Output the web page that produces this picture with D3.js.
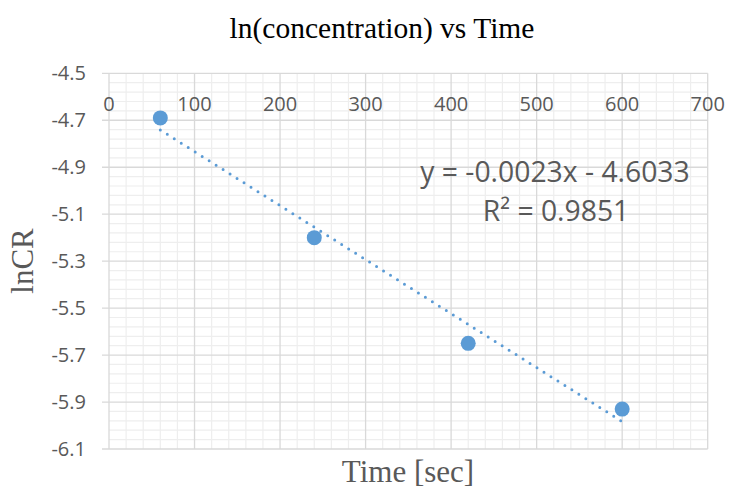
<!DOCTYPE html>
<html><head><meta charset="utf-8">
<script src="https://cdn.jsdelivr.net/npm/d3@7"></script>
<style>html,body{margin:0;padding:0;background:#fff;}</style>
</head><body>
<svg id="c" width="733" height="489"></svg>
<script>
const timeSec = [60, 240, 420, 600];
const lnCR = [-4.69, -5.20, -5.65, -5.93];
const xTicks = [0, 100, 200, 300, 400, 500, 600, 700];
const yTicks = [-4.5, -4.7, -4.9, -5.1, -5.3, -5.5, -5.7, -5.9, -6.1];
const trendSlope = -0.0023, trendIntercept = -4.6033, trendR2 = 0.9851;
const title = "ln(concentration) vs Time";
const xTitle = "Time [sec]", yTitle = "lnCR";

const svg = d3.select("#c");
const L = 109, R = 707.7, T = 73.3, B = 449;
const x = d3.scaleLinear().domain([0, 700]).range([L, R]);
const y = d3.scaleLinear().domain([-4.5, -6.1]).range([T, B]);
const blue = "#5B9BD5", grey = "#595959";

// minor grid
const g = svg.append("g");
g.selectAll(".mx").data(d3.range(0, 701, 20).filter(v => v % 100 !== 0)).join("line")
  .attr("x1", d => x(d)).attr("x2", d => x(d)).attr("y1", T).attr("y2", B)
  .attr("stroke", "#eeeeee").attr("stroke-width", 1.2);
g.selectAll(".my").data(d3.range(0, 41).map(i => -4.5 - i * 0.04).filter((v, i) => i % 5 !== 0)).join("line")
  .attr("y1", d => y(d)).attr("y2", d => y(d)).attr("x1", L).attr("x2", R)
  .attr("stroke", "#eeeeee").attr("stroke-width", 1.2);
// major grid
g.selectAll(".Mx").data(xTicks).join("line")
  .attr("x1", d => x(d)).attr("x2", d => x(d)).attr("y1", T).attr("y2", B)
  .attr("stroke", "#d9d9d9").attr("stroke-width", 1.3);
g.selectAll(".My").data(yTicks).join("line")
  .attr("y1", d => y(d)).attr("y2", d => y(d)).attr("x1", L - 7).attr("x2", R)
  .attr("stroke", "#d9d9d9").attr("stroke-width", 1.3);

// axes labels
svg.append("g").selectAll("text").data(yTicks).join("text")
  .attr("x", 86).attr("y", d => y(d) + 7)
  .attr("text-anchor", "end").attr("fill", grey)
  .style("font-family", "'Open Sans', sans-serif").style("font-size", "20px")
  .text(d => d.toFixed(1));
svg.append("g").selectAll("text").data(xTicks).join("text")
  .attr("x", d => x(d)).attr("y", 111)
  .attr("text-anchor", "middle").attr("fill", grey)
  .style("font-family", "'Open Sans', sans-serif").style("font-size", "20px")
  .text(d => d);

// trendline
const trendX = [timeSec[0], timeSec[timeSec.length - 1]];
svg.append("line")
  .attr("x1", x(trendX[0])).attr("y1", y(trendSlope * trendX[0] + trendIntercept))
  .attr("x2", x(trendX[1])).attr("y2", y(trendSlope * trendX[1] + trendIntercept))
  .attr("stroke", blue).attr("stroke-width", 3)
  .attr("stroke-linecap", "round").attr("stroke-dasharray", "0 8.25");

// points
svg.append("g").selectAll("circle").data(timeSec).join("circle")
  .attr("cx", d => x(d)).attr("cy", (d, i) => y(lnCR[i])).attr("r", 7.5)
  .attr("fill", blue);

// equation
svg.append("text").attr("x", 555).attr("y", 182).attr("text-anchor", "middle")
  .attr("fill", grey).style("font-family", "'Open Sans', sans-serif").style("font-size", "28.3px")
  .text(`y = ${trendSlope}x - ${Math.abs(trendIntercept)}`);
svg.append("text").attr("x", 556).attr("y", 221).attr("text-anchor", "middle")
  .attr("fill", grey).style("font-family", "'Open Sans', sans-serif").style("font-size", "28.3px")
  .text(`R² = ${trendR2}`);

// titles
svg.append("text").attr("x", 382).attr("y", 38).attr("text-anchor", "middle")
  .attr("fill", "#000").style("font-family", "'Liberation Serif', 'Times New Roman', serif").style("font-size", "29.5px")
  .text(title);
svg.append("text").attr("x", 408).attr("y", 482).attr("text-anchor", "middle")
  .attr("fill", grey).style("font-family", "'Liberation Serif', 'Times New Roman', serif").style("font-size", "31px")
  .text(xTitle);
svg.append("text").attr("transform", "translate(33,261) rotate(-90)").attr("text-anchor", "middle")
  .attr("fill", grey).style("font-family", "'Liberation Serif', 'Times New Roman', serif").style("font-size", "31px")
  .text(yTitle);
</script>
</body></html>
